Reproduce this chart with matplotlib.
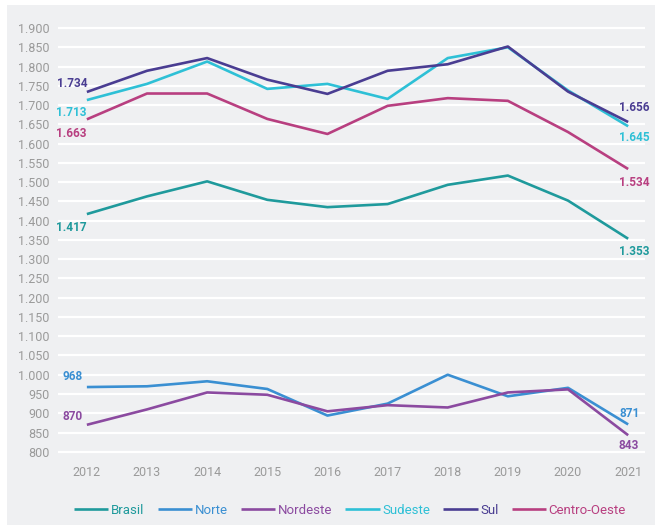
import matplotlib.pyplot as plt
import matplotlib.patches as mpatches

plt.rcParams['font.family'] = ['Liberation Sans Narrow', 'Roboto', 'DejaVu Sans']

anos = [2012, 2013, 2014, 2015, 2016, 2017, 2018, 2019, 2020, 2021]

brasil = [1417, 1463, 1502, 1454, 1435, 1443, 1493, 1517, 1452, 1353]
norte = [968, 970, 983, 963, 894, 925, 1000, 944, 966, 871]
nordeste = [870, 910, 954, 948, 905, 921, 915, 954, 962, 843]
sudeste = [1713, 1755, 1813, 1742, 1755, 1716, 1822, 1850, 1738, 1645]
sul = [1734, 1789, 1822, 1766, 1729, 1789, 1806, 1852, 1735, 1656]
centro_oeste = [1663, 1730, 1730, 1664, 1625, 1698, 1718, 1711, 1630, 1534]

nomes = ['Brasil', 'Norte', 'Nordeste', 'Sudeste', 'Sul', 'Centro-Oeste']
series = [brasil, norte, nordeste, sudeste, sul, centro_oeste]
cores = ['#1f9a9c', '#3a8fd2', '#8b4aa0', '#2ec0d6', '#4a3d92', '#b83f80']

# deslocamentos dos rotulos (pixels) no inicio e no fim
desloc_ini = [(-16, -13), (-14, 11), (-14, 8), (-16, -12), (-15, 8), (-16, -14)]
desloc_fim = [(6, -13), (1, 11), (1, -10), (6, -11), (6, 15), (6, -13)]

fig = plt.figure(figsize=(6.55, 5.25), dpi=100)
fig.patches.append(mpatches.Rectangle((7 / 655, 0), 1, 1 - 5 / 525,
                                      transform=fig.transFigure,
                                      facecolor='#eff0f2', edgecolor='none', zorder=-10))

ax = fig.add_axes([58 / 655, 1 - 453.7 / 525, 587 / 655, 427.6 / 525])
ax.set_facecolor('none')

for nome, vals, cor, d0, d1 in zip(nomes, series, cores, desloc_ini, desloc_fim):
    ax.plot(anos, vals, color=cor, lw=1.9, label=nome, solid_capstyle='butt')
    ax.annotate(f'{vals[0]:,}'.replace(',', '.'), (anos[0], vals[0]), xytext=d0,
                textcoords='offset pixels', ha='center', va='center',
                color=cor, fontsize=8.5, fontweight='bold')
    ax.annotate(f'{vals[-1]:,}'.replace(',', '.'), (anos[-1], vals[-1]), xytext=d1,
                textcoords='offset pixels', ha='center', va='center',
                color=cor, fontsize=8.5, fontweight='bold')

ax.set_xlim(2011.52, 2021.28)
ax.set_ylim(795, 1905)
yt = list(range(800, 1901, 50))
ax.set_yticks(yt)
ax.set_yticklabels([f'{v:,}'.replace(',', '.') for v in yt])
ax.set_xticks(anos)
ax.grid(axis='y', color='white', lw=1.6)
ax.set_axisbelow(True)
for s in ax.spines.values():
    s.set_visible(False)
ax.tick_params(length=0, labelsize=9, colors='#9a9a9a', pad=6)
ax.tick_params(axis='x', pad=9)

fig.legend(loc='center', bbox_to_anchor=(350 / 655, 1 - 510 / 525), ncol=6,
           frameon=False, handlelength=2.6, handletextpad=0.2, columnspacing=1.0,
           labelcolor='linecolor', prop={'size': 9.5})

fig.savefig('out.png', dpi=100)
